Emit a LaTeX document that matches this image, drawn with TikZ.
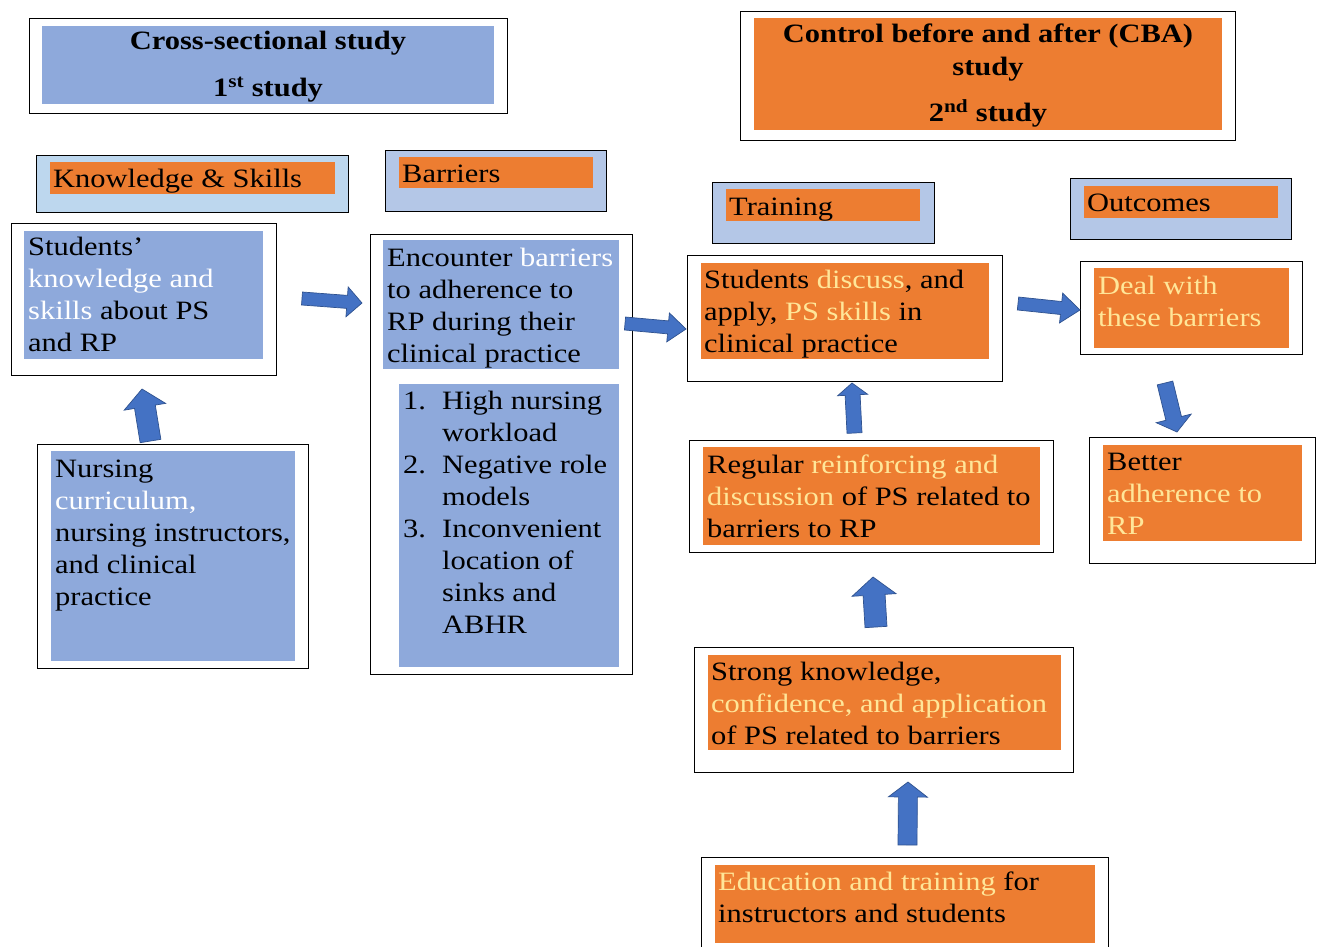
\documentclass[tikz,border=0pt]{standalone}
\usepackage{fontspec}
\setmainfont{Liberation Serif}[FakeStretch=1.15]
\usetikzlibrary{calc}
\definecolor{bluefill}{HTML}{8EA9DB}
\definecolor{hdrblue}{HTML}{B4C7E7}
\definecolor{hdrblueb}{HTML}{BDD7EE}
\definecolor{orangefill}{HTML}{ED7D31}
\definecolor{hl}{HTML}{FFE699}
\definecolor{arrowblue}{HTML}{4472C4}
\definecolor{arrowedge}{HTML}{2F528F}
\newcommand\RectNode[6]{\node[#6, anchor=north west, minimum width={(#4)-(#2)}, minimum height={(#5)-(#3)}] (#1) at (#2,#3) {};}
% tail, tip, shaft half width, head half width, head length
\newcommand\BlockArr[5]{%
  \coordinate (hb) at ($(#2)!#5pt!(#1)$);
  \filldraw[blockarrow] ($(#1)!#3pt!90:(#2)$) -- ($(hb)!#3pt!-90:(#1)$) -- ($(hb)!#4pt!-90:(#1)$) -- (#2) -- ($(hb)!#4pt!90:(#1)$) -- ($(hb)!#3pt!90:(#1)$) -- ($(#1)!#3pt!-90:(#2)$) -- cycle;}
\tikzset{
  frame/.style={draw=black, line width=1.2pt, fill=white, inner sep=0pt},
  hdrframe/.style={draw=black, line width=1.2pt, fill=hdrblue, inner sep=0pt},
  bluebox/.style={fill=bluefill, inner sep=0pt},
  orangebox/.style={fill=orangefill, inner sep=0pt},
  txt/.style={anchor=north west, inner sep=0pt, align=left, font=\fontsize{26.5}{32}\selectfont},
  hdrtxt/.style={anchor=base west, inner sep=0pt, font=\fontsize{26.5}{32}\selectfont},
  titletxt/.style={anchor=base, inner sep=0pt, font=\bfseries\fontsize{26.5}{32}\selectfont},
  blockarrow/.style={fill=arrowblue, draw=arrowedge, line width=0.7pt, line join=miter},
}
\begin{document}
\begin{tikzpicture}[x=1pt, y=-1pt]
\clip (0,0) rectangle (1319,947);
\fill[white] (0,0) rectangle (1319,947);

% Titles
\RectNode{t1f}{29}{18}{507}{113}{frame}
\RectNode{t1i}{42}{26}{494}{104}{bluebox}
\node[titletxt] (t1a) at (268,50) {Cross-sectional study};
\node[titletxt] (t1b) at (268,97) {1\textsuperscript{st} study};

\RectNode{t2f}{740}{11}{1235}{140}{frame}
\RectNode{t2i}{754}{18}{1222}{130}{orangebox}
\node[titletxt] (t2a) at (988,43) {Control before and after (CBA)};
\node[titletxt] (t2b) at (988,76) {study};
\node[titletxt] (t2c) at (988,122) {2\textsuperscript{nd} study};

% Headers
\RectNode{h1f}{36}{155}{348}{212}{hdrframe, fill=hdrblueb}
\RectNode{h1i}{50}{162}{335}{194}{orangebox}
\node[hdrtxt] (h1t) at (53,187) {Knowledge \& Skills};

\RectNode{h2f}{385}{150}{606}{211}{hdrframe}
\RectNode{h2i}{399}{157}{593}{188}{orangebox}
\node[hdrtxt] (h2t) at (402,182) {Barriers};

\RectNode{h3f}{712}{182}{934}{243}{hdrframe}
\RectNode{h3i}{726}{189}{920}{221}{orangebox}
\node[hdrtxt] (h3t) at (729,215) {Training};

\RectNode{h4f}{1070}{178}{1291}{239}{hdrframe}
\RectNode{h4i}{1084}{186}{1278}{218}{orangebox}
\node[hdrtxt] (h4t) at (1087,211) {Outcomes};

% Students' knowledge
\RectNode{skf}{11}{223}{276}{375}{frame}
\RectNode{ski}{24}{231}{263}{359}{bluebox}
\node[txt] (skt) at (28,232.6) {\strut Students’\\ \textcolor{white}{knowledge and}\\ \textcolor{white}{skills} about PS\\ and RP};

% Nursing
\RectNode{nuf}{37}{444}{308}{668}{frame}
\RectNode{nui}{51}{451}{295}{661}{bluebox}
\node[txt] (nut) at (55,454.6) {\strut Nursing\\ \textcolor{white}{curriculum,}\\ nursing instructors,\\ and clinical\\ practice};

% Barriers box
\RectNode{baf}{370}{234}{632}{674}{frame}
\RectNode{bai}{383}{240}{619}{369}{bluebox}
\RectNode{bal}{399}{384}{619}{667}{bluebox}
\node[txt] (bat) at (387,243.6) {\strut Encounter \textcolor{white}{barriers}\\ to adherence to\\ RP during their\\ clinical practice};
\node[txt] (balt) at (403,386.6) {\strut\makebox[39pt][l]{1.}High nursing\\
\hspace*{39pt}workload\\
\makebox[39pt][l]{2.}Negative role\\
\hspace*{39pt}models\\
\makebox[39pt][l]{3.}Inconvenient\\
\hspace*{39pt}location of\\
\hspace*{39pt}sinks and\\
\hspace*{39pt}ABHR};

% Students discuss
\RectNode{sdf}{687}{255}{1002}{381}{frame}
\RectNode{sdi}{701}{263}{989}{359}{orangebox}
\node[txt] (sdt) at (704,265.6) {\strut Students \textcolor{hl}{discuss}, and\\ apply, \textcolor{hl}{PS skills} in\\ clinical practice};

% Regular
\RectNode{rgf}{689}{440}{1053}{552}{frame}
\RectNode{rgi}{703}{447}{1040}{545}{orangebox}
\node[txt] (rgt) at (707,450.6) {\strut Regular \textcolor{hl}{reinforcing and}\\ \textcolor{hl}{discussion} of PS related to\\ barriers to RP};

% Strong
\RectNode{stf}{694}{647}{1073}{772}{frame}
\RectNode{sti}{708}{655}{1061}{750}{orangebox}
\node[txt] (stt) at (711,657.6) {\strut Strong knowledge,\\ \textcolor{hl}{confidence, and application}\\ of PS related to barriers};

% Education
\RectNode{edf}{701}{857}{1108}{990}{frame}
\RectNode{edi}{715}{865}{1095}{943}{orangebox}
\node[txt] (edt) at (718,867.6) {\strut\textcolor{hl}{Education and training} for\\ instructors and students};

% Deal
\RectNode{dlf}{1080}{261}{1302}{354}{frame}
\RectNode{dli}{1094}{268}{1289}{348}{orangebox}
\node[txt] (dlt) at (1098,271.6) {\strut\textcolor{hl}{Deal with}\\ \textcolor{hl}{these barriers}};

% Better
\RectNode{btf}{1089}{437}{1315}{563}{frame}
\RectNode{bti}{1103}{445}{1302}{541}{orangebox}
\node[txt] (btt) at (1107,447.6) {\strut Better\\ \textcolor{hl}{adherence to}\\ \textcolor{hl}{RP}};

% Block arrows
\coordinate (a1t) at (302,298.5); \coordinate (a1h) at (362,303);
\coordinate (a2t) at (625,323.5); \coordinate (a2h) at (686,329);
\coordinate (a3t) at (1018,303.5); \coordinate (a3h) at (1080,310);
\coordinate (a4t) at (1165,383); \coordinate (a4h) at (1177,432);
\coordinate (a5t) at (854.5,433); \coordinate (a5h) at (852,383);
\coordinate (a6t) at (876,627); \coordinate (a6h) at (873,577);
\coordinate (a7t) at (907.5,845); \coordinate (a7h) at (908,782);
\coordinate (a8t) at (150.5,441); \coordinate (a8h) at (142,389);
\BlockArr{a1t}{a1h}{6.5}{15}{15}
\BlockArr{a2t}{a2h}{6.5}{14.5}{18}
\BlockArr{a3t}{a3h}{6.5}{15}{19}
\BlockArr{a4t}{a4h}{8}{18}{14}
\BlockArr{a5t}{a5h}{7.5}{15}{12}
\BlockArr{a6t}{a6h}{11}{22}{18}
\BlockArr{a7t}{a7h}{9.5}{19.5}{15}
\BlockArr{a8t}{a8h}{10.5}{21}{18}
\end{tikzpicture}
\end{document}
